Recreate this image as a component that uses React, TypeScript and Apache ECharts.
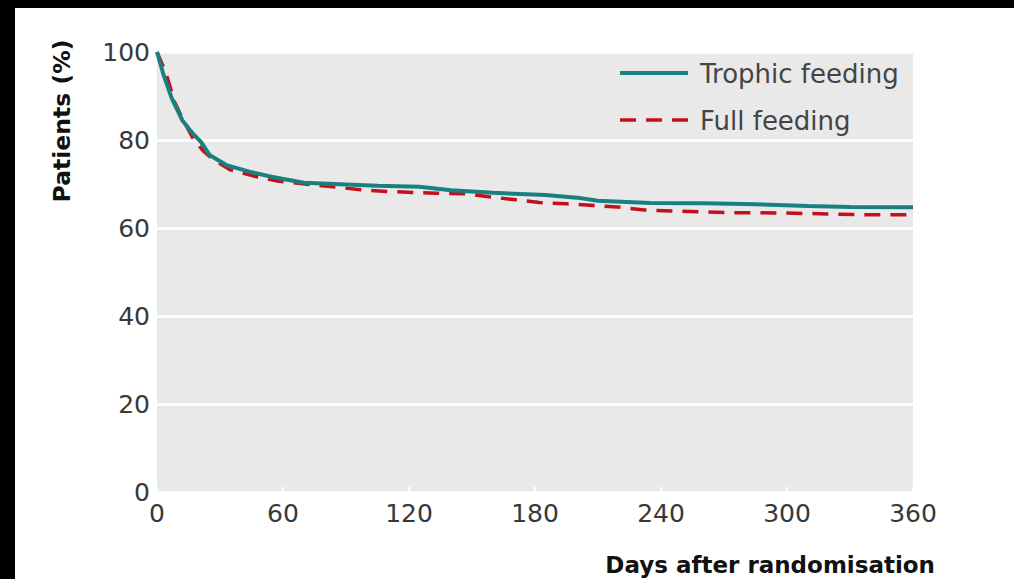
import React, { useEffect, useRef } from "react";
import * as echarts from "echarts";

// Kaplan-Meier style proportions of patients (%) against days after randomisation
const trophicDays = [0, 3, 7, 12, 17, 21, 25, 33, 44, 55, 70, 90, 105, 125, 140, 160, 185, 200, 210, 235, 260, 285, 310, 330, 360];
const trophicPct = [100, 95, 89.5, 84.5, 81.5, 79.5, 76.6, 74.3, 72.8, 71.6, 70.3, 69.9, 69.6, 69.4, 68.6, 68.0, 67.5, 66.9, 66.2, 65.7, 65.6, 65.4, 65.0, 64.8, 64.7];

const fullDays = [0, 4, 6, 8, 12, 17, 22, 27, 35, 47, 58, 75, 97, 110, 133, 146, 158, 171, 182, 195, 208, 219, 232, 250, 270, 300, 319, 340, 360];
const fullPct = [100, 95.5, 92.5, 89, 85, 80.5, 77.5, 75.5, 73.2, 71.7, 70.6, 69.8, 68.7, 68.3, 67.9, 67.8, 67.1, 66.4, 65.8, 65.5, 65.1, 64.8, 64.1, 63.8, 63.5, 63.4, 63.2, 63.0, 63.0];

const seriesNames = ["Trophic feeding", "Full feeding"];
const xTicks = [0, 60, 120, 180, 240, 300, 360];
const yTicks = [0, 20, 40, 60, 80, 100];

const TEAL = "#18807e";
const RED = "#c3101c";
const FONT = "DejaVu Sans";

export default function App() {
  const ref = useRef<HTMLDivElement>(null);

  useEffect(() => {
    if (!ref.current) return;
    const chart = echarts.init(ref.current, undefined, { renderer: "svg" });
    const pair = (xs: number[], ys: number[]) => xs.map((x, i) => [x, ys[i]]);

    chart.setOption({
      animation: false,
      grid: {
        left: 142,
        right: 101,
        top: 44,
        bottom: 87,
        show: true,
        backgroundColor: "#e9e9e9",
        borderWidth: 0,
      },
      xAxis: {
        type: "value",
        min: xTicks[0],
        max: xTicks[xTicks.length - 1],
        interval: 60,
        axisLine: { show: false },
        axisTick: { show: true, inside: true, length: 5, lineStyle: { color: "#ffffff", width: 2 } },
        splitLine: { show: false },
        axisLabel: { color: "#383838", fontFamily: FONT, fontSize: 25, margin: 9 },
      },
      yAxis: {
        type: "value",
        min: yTicks[0],
        max: yTicks[yTicks.length - 1],
        interval: 20,
        axisLine: { show: false },
        axisTick: { show: false },
        splitLine: { show: true, lineStyle: { color: "#ffffff", width: 2.5 } },
        axisLabel: { color: "#383838", fontFamily: FONT, fontSize: 25, margin: 7 },
      },
      series: [
        {
          name: seriesNames[1],
          type: "line",
          data: pair(fullDays, fullPct),
          showSymbol: false,
          smooth: false,
          lineStyle: { color: RED, width: 3.5, type: [16, 10] },
          z: 2,
        },
        {
          name: seriesNames[0],
          type: "line",
          data: pair(trophicDays, trophicPct),
          showSymbol: false,
          smooth: false,
          lineStyle: { color: TEAL, width: 4 },
          z: 3,
        },
      ],
      graphic: [
        // legend
        { type: "line", shape: { x1: 605, y1: 65, x2: 673, y2: 65 }, style: { stroke: TEAL, lineWidth: 4 }, z: 10 },
        { type: "text", x: 685, y: 66, style: { text: seriesNames[0], font: `26px "${FONT}"`, fill: "#444444", textVerticalAlign: "middle" }, z: 10 },
        { type: "line", shape: { x1: 605, y1: 112, x2: 673, y2: 112 }, style: { stroke: RED, lineWidth: 3.5, lineDash: [16, 10] }, z: 10 },
        { type: "text", x: 685, y: 113, style: { text: seriesNames[1], font: `26px "${FONT}"`, fill: "#444444", textVerticalAlign: "middle" }, z: 10 },
        // axis titles
        {
          type: "text",
          x: 47,
          y: 113,
          rotation: Math.PI / 2,
          style: { text: "Patients (%)", font: `bold 23.5px "${FONT}"`, fill: "#111111", textAlign: "center", textVerticalAlign: "middle" },
        },
        {
          type: "text",
          x: 920,
          y: 557,
          style: { text: "Days after randomisation", font: `bold 23px "${FONT}"`, fill: "#111111", textAlign: "right", textVerticalAlign: "middle" },
        },
      ],
    });

    return () => chart.dispose();
  }, []);

  return (
    <div style={{ position: "fixed", inset: 0, background: "#000000" }}>
      <div style={{ position: "absolute", left: 15, top: 8, width: 999, height: 571, background: "#ffffff" }}>
        <div ref={ref} style={{ width: 999, height: 571 }} />
      </div>
    </div>
  );
}
